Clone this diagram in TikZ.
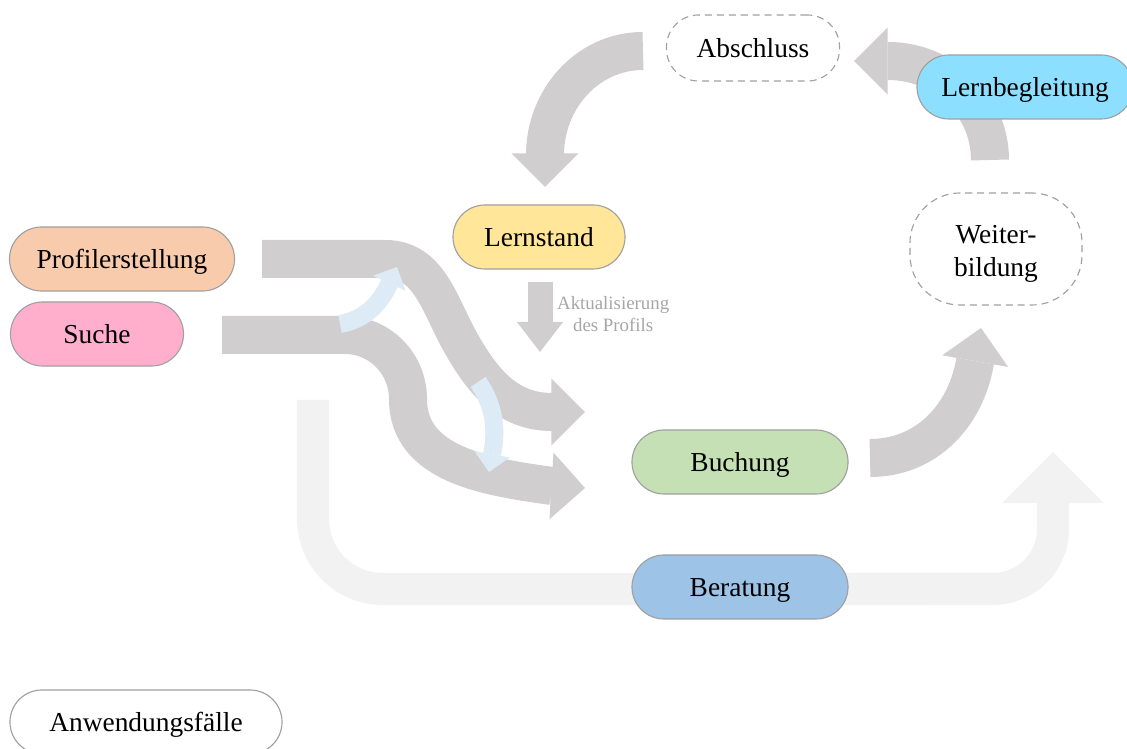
\documentclass[tikz,border=0pt]{standalone}
\usepackage{fontspec}
\setmainfont{Liberation Serif}
\usepackage{tikz}
\usetikzlibrary{arrows.meta,positioning}
\definecolor{bandgray}{HTML}{D0CECE}
\definecolor{bandlight}{HTML}{F2F2F2}
\definecolor{flowblue}{HTML}{DDEBF7}
\definecolor{rimgray}{HTML}{A0A0A0}
\definecolor{notegray}{HTML}{A6A6A6}
\definecolor{profpeach}{HTML}{F8CBAD}
\definecolor{suchpink}{HTML}{FFAFCB}
\definecolor{standyellow}{HTML}{FFE699}
\definecolor{buchgreen}{HTML}{C5E0B4}
\definecolor{beratblue}{HTML}{9DC3E6}
\definecolor{begleitcyan}{HTML}{8DDFFF}

\begin{document}
\begin{tikzpicture}[
      x=0.025cm, y=0.025cm,
      pill/.style={draw=rimgray, line width=0.8pt, rounded corners=0.8cm, minimum height=1.6cm, inner sep=4pt, align=center, font=\fontsize{19.5}{24}\selectfont},
      onerow/.style={text height=14.5pt, text depth=0.3pt},
      openpill/.style={pill, fill=white, dash pattern=on 5pt off 3.5pt},
      band/.style={draw=bandgray, line width=0.95cm, -{Triangle[width=1.67cm,length=0.84cm,line width=0pt]}},
      thinband/.style={draw=bandgray, line width=0.625cm, -{Triangle[width=1.15cm,length=0.75cm,line width=0pt]}},
      wideband/.style={draw=bandlight, line width=0.8cm, -{Triangle[width=2.55cm,length=1.28cm,line width=0pt]}},
      crossflow/.style={draw=flowblue, line width=0.45cm, -{Triangle[width=0.9cm,length=0.45cm,line width=0pt]}}
    ]
      \useasboundingbox (0,0) rectangle (1127,749);
      % free ends of the flows
      \coordinate (profil-out) at (262,490);
      \coordinate (suche-out) at (222,414);
      \coordinate (buchung-in1) at (585,337);
      \coordinate (buchung-in2) at (585,261);
      \coordinate (buchung-out) at (870,291);
      \coordinate (weiter-in) at (981,421);
      \coordinate (weiter-out) at (990,589);
      \coordinate (abschluss-in) at (854,688);
      \coordinate (abschluss-out) at (643,698);
      \coordinate (lernstand-in) at (545,562);
      \coordinate (lernstand-out) at (540,467);
      \coordinate (profil-upd) at (540,397);
      \coordinate (beratung-start) at (313,349);
      \coordinate (beratung-end) at (1053,297);
      % flows
      \draw[wideband] (beratung-start) -- (313,230) arc[start angle=180, end angle=270, radius=1.75cm] -- (993,160) arc[start angle=-90, end angle=0, radius=1.5cm] -- (beratung-end);
      \draw[band] (profil-out) -- (385,490) to[out=0,in=120] (462,404) to[out=-60,in=180] (552,337) -- (buchung-in1);
      \draw[band] (suche-out) -- (345,414) to[out=0,in=90] (408,350) to[out=-90,in=172] (552,263) -- (buchung-in2);
      \draw[crossflow] (340,425) to[out=10,in=-115] (397,482);
      \draw[crossflow] (478,367) to[out=-55,in=80] (489,277);
      \draw[band] (buchung-out) to[out=0,in=-100] (975,387) -- (weiter-in);
      \draw[band] (weiter-out) to[out=90,in=0] (888,688) -- (abschluss-in);
      \draw[band] (abschluss-out) to[out=180,in=90] (545,594) -- (lernstand-in);
      \draw[thinband] (lernstand-out) -- node[right=0cm, yshift=0.08cm, align=center, text=notegray, font=\fontsize{13.4}{15.6}\selectfont]{Aktualisierung\\des Profils} (profil-upd);
      % use cases
      \node[pill, onerow, fill=profpeach, minimum width=5.625cm] (profil) at (122,490) {Profilerstellung};
      \node[pill, onerow, fill=suchpink, minimum width=4.325cm] (suche) at (97,415) {Suche};
      \node[pill, onerow, fill=standyellow, minimum width=4.3cm] (lernstand) at (539,512) {Lernstand};
      \node[pill, onerow, fill=buchgreen, minimum width=5.4cm] (buchung) at (740,287) {Buchung};
      \node[pill, onerow, fill=beratblue, minimum width=5.4cm] (beratung) at (740,162) {Beratung};
      \node[pill, onerow, fill=begleitcyan, minimum width=5.4cm] (begleitung) at (1025,662) {Lernbegleitung};
      \node[openpill, onerow, minimum width=4.325cm, minimum height=1.65cm] (abschluss) at (753,701) {Abschluss};
      \node[openpill, minimum width=4.3cm, minimum height=2.8cm, rounded corners=1.25cm] (weiter) at (996,500) {\rule{0pt}{20pt}Weiter-\\bildung};
      \node[pill, onerow, fill=white, minimum width=6.8cm] (faelle) at (146,27) {Anwendungsfälle};
    \end{tikzpicture}
\end{document}
